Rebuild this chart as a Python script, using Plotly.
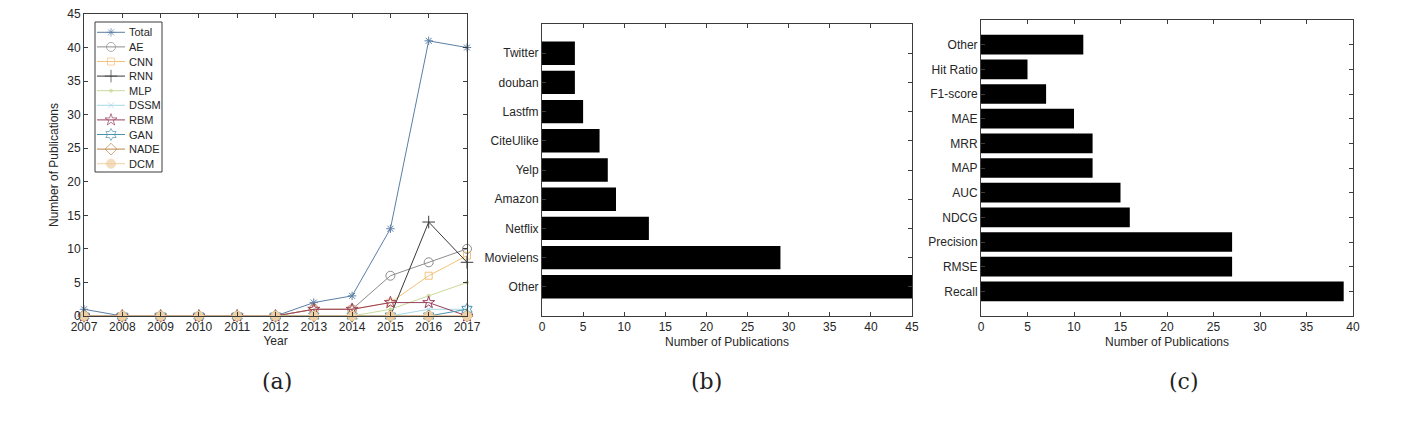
import plotly.graph_objects as go

# ---- data ----
years = [2007, 2008, 2009, 2010, 2011, 2012, 2013, 2014, 2015, 2016, 2017]
total = [1, 0, 0, 0, 0, 0, 2, 3, 13, 41, 40]
ae = [0, 0, 0, 0, 0, 0, 1, 1, 6, 8, 10]
cnn = [0, 0, 0, 0, 0, 0, 1, 1, 2, 6, 9]
rnn = [0, 0, 0, 0, 0, 0, 0, 0, 0, 14, 8]
mlp = [0, 0, 0, 0, 0, 0, 0, 0, 1, 3, 5]
dssm = [0, 0, 0, 0, 0, 0, 0, 0, 0, 1, 1]
rbm = [0, 0, 0, 0, 0, 0, 1, 1, 2, 2, 0]
gan = [0, 0, 0, 0, 0, 0, 0, 0, 0, 0, 1]
nade = [0, 0, 0, 0, 0, 0, 0, 0, 0, 0, 0]
dcm = [0, 0, 0, 0, 0, 0, 0, 0, 0, 0, 0]

# bottom-to-top order, as barh draws them
datasets = ["Other", "Movielens", "Netflix", "Amazon", "Yelp", "CiteUlike", "Lastfm", "douban", "Twitter"]
dataset_counts = [45, 29, 13, 9, 8, 7, 5, 4, 4]

metrics = ["Recall", "RMSE", "Precision", "NDCG", "AUC", "MAP", "MRR", "MAE", "F1-score", "Hit Ratio", "Other"]
metric_counts = [39, 27, 27, 16, 15, 12, 12, 10, 7, 5, 11]

series = [
    ("Total", total, "#5b7fa6", "asterisk-open", 7),
    ("AE", ae, "#8c8c8c", "circle-open", 9),
    ("CNN", cnn, "#f2c27a", "square-open", 7),
    ("RNN", rnn, "#3a3a3a", "cross-thin-open", 9),
    ("MLP", mlp, "#c9d99a", "circle", 3),
    ("DSSM", dssm, "#a6d8ea", "x-thin-open", 6),
    ("RBM", rbm, "#9a3f5c", "star-open", 9),
    ("GAN", gan, "#4a93ad", "hexagram-open", 9),
    ("NADE", nade, "#b98545", "diamond-open", 9),
    ("DCM", dcm, "#efcfa4", "circle", 9),
]

W, H = 1420, 426
OFF = 8  # page body margin that write_html leaves around the plot
FONT = "Liberation Sans, Arial, sans-serif"
AXC = "#3c3c3c"
TXT = "#262626"


def px_x(v):
    return (v - OFF) / W


def px_y(v):
    return 1 - (v - OFF) / H


fig = go.Figure()

# (a) publications per year by model
for name, vals, color, sym, size in series:
    fig.add_trace(go.Scatter(
        x=years, y=vals, name=name, mode="lines+markers",
        line=dict(color=color, width=1),
        marker=dict(symbol=sym, size=size, color=color,
                    line=dict(color=color, width=1)),
        cliponaxis=False, showlegend=False, xaxis="x", yaxis="y",
    ))

# legend box for (a), drawn on a hidden pixel-scaled axis (MATLAB-style compact rows)
leg_x0, leg_x1, leg_y0, leg_y1 = 95, 162, 22, 172
row_h = 14.6
for i, (name, vals, color, sym, size) in enumerate(series):
    yy = 10.3 + i * row_h
    fig.add_trace(go.Scatter(
        x=[2, 16, 30], y=[yy, yy, yy], mode="lines+markers",
        line=dict(color=color, width=1),
        marker=dict(symbol=sym, size=[0, size, 0], color=color,
                    line=dict(color=color, width=[0, 1, 0])),
        cliponaxis=False, showlegend=False, hoverinfo="skip",
        xaxis="x4", yaxis="y4",
    ))
    fig.add_annotation(text=name, x=32, y=yy, xref="x4", yref="y4",
                       xanchor="left", yanchor="middle", showarrow=False,
                       font=dict(family=FONT, size=11, color=TXT))

# (b) datasets
fig.add_trace(go.Bar(
    x=dataset_counts, y=list(range(1, len(datasets) + 1)), orientation="h",
    width=0.8, marker=dict(color="black", line=dict(width=0)),
    showlegend=False, xaxis="x2", yaxis="y2",
))

# (c) metrics
fig.add_trace(go.Bar(
    x=metric_counts, y=list(range(1, len(metrics) + 1)), orientation="h",
    width=0.8, marker=dict(color="black", line=dict(width=0)),
    showlegend=False, xaxis="x3", yaxis="y3",
))

ax_common = dict(
    showline=True, linecolor=AXC, linewidth=1, mirror="ticks",
    ticks="inside", ticklen=4, tickcolor=AXC, showgrid=False, zeroline=False,
    automargin=False, ticklabeloverflow="allow",
    tickfont=dict(family=FONT, size=12, color=TXT),
    title_font=dict(family=FONT, size=12, color=TXT),
)

hidden = dict(visible=False, showgrid=False, zeroline=False, automargin=False, fixedrange=True)

fig.update_layout(
    width=W, height=H, margin=dict(l=0, r=0, t=0, b=0),
    paper_bgcolor="white", plot_bgcolor="white",
    font=dict(family=FONT, size=12, color=TXT),
    showlegend=False,
    xaxis=dict(domain=[px_x(84), px_x(467)], range=[2007, 2017], tickmode="array",
               tickvals=years, title=dict(text="Year", standoff=2), anchor="y", **ax_common),
    yaxis=dict(domain=[px_y(316), px_y(14)], range=[0, 45], dtick=5,
               title=dict(text="Number of Publications", standoff=6), anchor="x", **ax_common),
    xaxis2=dict(domain=[px_x(542), px_x(912)], range=[0, 45], dtick=5,
                title=dict(text="Number of Publications", standoff=4), anchor="y2", **ax_common),
    yaxis2=dict(domain=[px_y(316), px_y(24)], range=[0, 10], tickmode="array",
                tickvals=list(range(1, len(datasets) + 1)), ticktext=datasets,
                anchor="x2", **ax_common),
    xaxis3=dict(domain=[px_x(981), px_x(1353)], range=[0, 40], dtick=5,
                title=dict(text="Number of Publications", standoff=4), anchor="y3", **ax_common),
    yaxis3=dict(domain=[px_y(316), px_y(20)], range=[0, 12], tickmode="array",
                tickvals=list(range(1, len(metrics) + 1)), ticktext=metrics,
                anchor="x3", **ax_common),
    xaxis4=dict(domain=[px_x(leg_x0), px_x(leg_x1)], range=[0, leg_x1 - leg_x0],
                anchor="y4", **hidden),
    yaxis4=dict(domain=[px_y(leg_y1), px_y(leg_y0)], range=[leg_y1 - leg_y0, 0],
                anchor="x4", **hidden),
    bargap=0.2,
)

fig.add_shape(type="rect", xref="paper", yref="paper",
              x0=px_x(leg_x0), x1=px_x(leg_x1), y0=px_y(leg_y1), y1=px_y(leg_y0),
              line=dict(color=AXC, width=1), fillcolor="rgba(0,0,0,0)", layer="above")

# panel labels
for lbl, xc in [("(a)", 277), ("(b)", 706), ("(c)", 1184)]:
    fig.add_annotation(text=lbl, x=px_x(xc), y=px_y(381), xref="paper", yref="paper",
                       showarrow=False, xanchor="center", yanchor="middle",
                       font=dict(family="DejaVu Serif, Liberation Serif, serif", size=22, color="#222"))

fig.write_html("out.html")
